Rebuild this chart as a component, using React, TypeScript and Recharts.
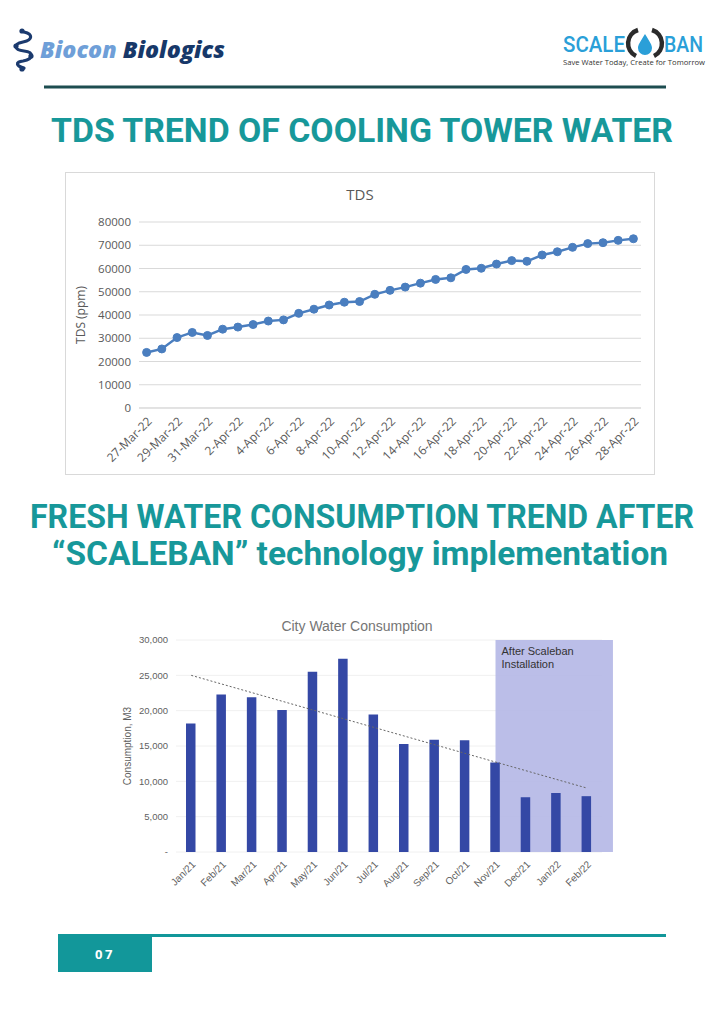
import React from 'react';
import {
  LineChart,
  Line,
  ComposedChart,
  Bar,
  XAxis,
  YAxis,
  CartesianGrid,
  ReferenceArea,
} from 'recharts';

// TDS trend, one reading per day
const tdsDates = [
  '27-Mar-22', '28-Mar-22', '29-Mar-22', '30-Mar-22', '31-Mar-22',
  '1-Apr-22', '2-Apr-22', '3-Apr-22', '4-Apr-22', '5-Apr-22', '6-Apr-22',
  '7-Apr-22', '8-Apr-22', '9-Apr-22', '10-Apr-22', '11-Apr-22', '12-Apr-22',
  '13-Apr-22', '14-Apr-22', '15-Apr-22', '16-Apr-22', '17-Apr-22', '18-Apr-22',
  '19-Apr-22', '20-Apr-22', '21-Apr-22', '22-Apr-22', '23-Apr-22', '24-Apr-22',
  '25-Apr-22', '26-Apr-22', '27-Apr-22', '28-Apr-22',
];
const tdsValues = [
  23900, 25400, 30300, 32500, 31200, 33900, 34800, 35900, 37400, 37900, 40700,
  42500, 44300, 45500, 45800, 48900, 50600, 52000, 53700, 55300, 56000, 59600,
  60100, 61900, 63400, 63100, 65800, 67200, 69100, 70700, 71100, 72100, 72800,
];
const tdsTicks = [0, 10000, 20000, 30000, 40000, 50000, 60000, 70000, 80000];

// City water consumption, M3 per month
const months = [
  'Jan/21', 'Feb/21', 'Mar/21', 'Apr/21', 'May/21', 'Jun/21', 'Jul/21',
  'Aug/21', 'Sep/21', 'Oct/21', 'Nov/21', 'Dec/21', 'Jan/22', 'Feb/22',
];
const consumption = [
  18200, 22300, 21900, 20100, 25500, 27350, 19450, 15300, 15900, 15800, 12650,
  7750, 8350, 7900,
];
// linear trend line, value at first and last month
const trendEnds = [25000, 9050];
const consumptionTicks = [0, 5000, 10000, 15000, 20000, 25000, 30000];
// "After Scaleban Installation" box, in month-index units
const afterInstall = [10, 13.86];

const tdsRows = tdsDates.map((date, i) => ({ date, tds: tdsValues[i] }));
const waterRows = months.map((month, i) => ({
  month,
  idx: i,
  value: consumption[i],
  trend: i === 0 ? trendEnds[0] : i === months.length - 1 ? trendEnds[1] : null,
}));

const TEAL = '#17989a';
const GRAY = '#595959';
const SHEETS_GRAY = '#5f5f5f';

function Decorations() {
  return (
    <svg width={724} height={1024} style={{ position: 'absolute', left: 0, top: 0 }}>
      {/* Biocon logo */}
      <g fill="none" stroke="#1b3a6e" strokeWidth={3.2} strokeLinecap="round">
        <path d="M24 32 C 33 34, 33 40, 23 42 C 13 44, 14 50, 24 51 C 34 52, 34 59, 23 61 C 15 62, 16 66, 24 68" />
      </g>
      <circle cx={22} cy={31} r={2.6} fill="#1b3a6e" />
      <circle cx={16} cy={46} r={2.6} fill="#1b3a6e" />
      <circle cx={31} cy={56} r={2.6} fill="#1b3a6e" />
      <circle cx={22} cy={69} r={2.6} fill="#1b3a6e" />
      <text x={40} y={58} fontFamily="Open Sans" fontWeight={800} fontStyle="italic" fontSize={22}
        textLength={185} lengthAdjust="spacingAndGlyphs">
        <tspan fill="#6f9fd8">Biocon </tspan>
        <tspan fill="#173869">Biologics</tspan>
      </text>

      {/* Scaleban logo */}
      <text x={563} y={51.5} fontFamily="Roboto" fontWeight={500} fontSize={22} fill="#2a9fd8"
        textLength={62} lengthAdjust="spacingAndGlyphs">SCALE</text>
      <path d="M638 30 A 14 14 0 0 0 636 56" fill="none" stroke="#2b2b2b" strokeWidth={4.5} />
      <path d="M652 30 A 14 14 0 0 1 654 56" fill="none" stroke="#2b2b2b" strokeWidth={4.5} />
      <path d="M645 34 C 640 42, 638 45, 638 48 A 7 7 0 0 0 652 48 C 652 45, 650 42, 645 34 Z" fill="#2a9fd8" />
      <text x={664} y={51.5} fontFamily="Roboto" fontWeight={500} fontSize={22} fill="#2a9fd8"
        textLength={39} lengthAdjust="spacingAndGlyphs">BAN</text>
      <text x={563} y={64.5} fontFamily="Open Sans" fontSize={7} fill="#333"
        textLength={142} lengthAdjust="spacingAndGlyphs">Save Water Today, Create for Tomorrow</text>

      <rect x={44} y={85.5} width={622} height={3} fill="#1d4d50" />

      <text x={51} y={142} fontFamily="Roboto" fontWeight={700} fontSize={33} fill={TEAL}
        textLength={622} lengthAdjust="spacingAndGlyphs">TDS TREND OF COOLING TOWER WATER</text>
      <text x={30} y={528} fontFamily="Roboto" fontWeight={700} fontSize={32.5} fill={TEAL}
        textLength={664} lengthAdjust="spacingAndGlyphs">FRESH WATER CONSUMPTION TREND AFTER</text>
      <text x={52} y={565} fontFamily="Roboto" fontWeight={700} fontSize={32.5} fill={TEAL}
        textLength={616} lengthAdjust="spacingAndGlyphs">“SCALEBAN” technology implementation</text>

      {/* footer */}
      <rect x={58} y={934} width={94} height={38} fill="#12979a" />
      <rect x={152} y={934} width={514} height={3} fill="#12979a" />
      <text x={105} y={959} textAnchor="middle" fontFamily="Open Sans" fontWeight={700} fontSize={13}
        fill="#fff" letterSpacing={2.5}>07</text>
    </svg>
  );
}

function TdsChart() {
  return (
    <div
      style={{
        position: 'absolute',
        left: 65,
        top: 172,
        width: 590,
        height: 303,
        border: '1px solid #d9d9d9',
        boxSizing: 'border-box',
        background: '#fff',
      }}
    >
      <div
        style={{
          position: 'absolute',
          top: 11,
          width: '100%',
          textAlign: 'center',
          fontFamily: '"Open Sans"',
          fontSize: 15,
          color: GRAY,
        }}
      >
        TDS
      </div>
      <LineChart width={588} height={301} data={tdsRows} margin={{ top: 49, right: 13, bottom: 0, left: 0 }}>
        <CartesianGrid vertical={false} stroke="#d9d9d9" />
        <XAxis
          dataKey="date"
          scale="band"
          interval={1}
          angle={-45}
          textAnchor="end"
          height={66}
          tickLine={false}
          axisLine={{ stroke: '#d9d9d9' }}
          tick={{ fontSize: 12, fill: GRAY, fontFamily: 'Open Sans' }}
        />
        <YAxis
          domain={[0, 80000]}
          ticks={tdsTicks}
          width={73}
          axisLine={false}
          tickLine={false}
          tick={{ fontSize: 11.5, fill: GRAY, fontFamily: 'Open Sans' }}
          label={{
            value: 'TDS (ppm)',
            angle: -90,
            position: 'insideLeft',
            offset: 15,
            style: { textAnchor: 'middle', fontSize: 12, fill: GRAY, fontFamily: 'Open Sans' },
          }}
        />
        <Line
          dataKey="tds"
          stroke="#4a7ebf"
          strokeWidth={2.5}
          dot={{ r: 4, fill: '#4a7ebf', stroke: '#4a7ebf', strokeWidth: 1 }}
          isAnimationActive={false}
        />
      </LineChart>
    </div>
  );
}

function InstallLabel(props: any) {
  const vb = props.viewBox || {};
  return (
    <text x={vb.x + 6} y={vb.y + 15} fontFamily="Liberation Sans" fontSize={11} fill="#333">
      <tspan x={vb.x + 6}>After Scaleban</tspan>
      <tspan x={vb.x + 6} dy={13}>Installation</tspan>
    </text>
  );
}

function WaterChart() {
  return (
    <div style={{ position: 'absolute', left: 110, top: 610, width: 520, height: 300 }}>
      <div
        style={{
          position: 'absolute',
          left: 147,
          top: 8,
          width: 200,
          textAlign: 'center',
          fontFamily: '"Liberation Sans"',
          fontSize: 14,
          color: '#757575',
        }}
      >
        City Water Consumption
      </div>
      <ComposedChart width={520} height={300} data={waterRows} margin={{ top: 30, right: 28, bottom: 0, left: 0 }}>
        <CartesianGrid vertical={false} stroke="#f0f0f0" />
        <XAxis
          xAxisId="cat"
          dataKey="month"
          interval={0}
          angle={-45}
          textAnchor="end"
          height={58}
          tickLine={false}
          axisLine={false}
          tick={{ fontSize: 10, fill: SHEETS_GRAY, fontFamily: 'Liberation Sans' }}
        />
        <XAxis xAxisId="pos" dataKey="idx" type="number" domain={[-0.5, 13.5]} allowDataOverflow hide />
        <YAxis
          domain={[0, 30000]}
          ticks={consumptionTicks}
          width={66}
          axisLine={false}
          tickLine={false}
          tickFormatter={(v: number) => (v === 0 ? '-' : v.toLocaleString('en-US'))}
          tick={{ fontSize: 9.5, fill: SHEETS_GRAY, fontFamily: 'Liberation Sans' }}
          label={{
            value: 'Consumption, M3',
            angle: -90,
            position: 'insideLeft',
            offset: 17,
            style: { textAnchor: 'middle', fontSize: 10, fill: SHEETS_GRAY, fontFamily: 'Liberation Sans' },
          }}
        />
        <ReferenceArea
          xAxisId="pos"
          x1={afterInstall[0]}
          x2={afterInstall[1]}
          y1={0}
          y2={30000}
          ifOverflow="visible"
          fill="#b4b7e5"
          fillOpacity={0.9}
          stroke="none"
          label={<InstallLabel />}
        />
        <Bar xAxisId="cat" dataKey="value" fill="#3448a5" barSize={9.5} isAnimationActive={false} />
        <Line
          xAxisId="cat"
          dataKey="trend"
          connectNulls
          stroke="#666"
          strokeWidth={1}
          strokeDasharray="2 2"
          dot={false}
          isAnimationActive={false}
        />
      </ComposedChart>
    </div>
  );
}

export default function App() {
  return (
    <div
      style={{
        position: 'absolute',
        left: 0,
        top: 0,
        width: 724,
        height: 1024,
        background: '#fff',
        overflow: 'hidden',
      }}
    >
      <Decorations />
      <TdsChart />
      <WaterChart />
    </div>
  );
}
